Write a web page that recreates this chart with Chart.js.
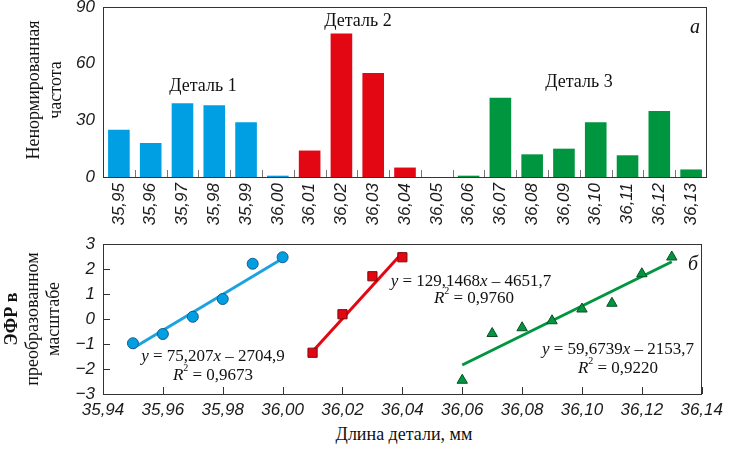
<!DOCTYPE html>
<html><head><meta charset="utf-8">
<script src="https://cdn.jsdelivr.net/npm/chart.js@4"></script>
<style>
html,body{margin:0;padding:0;background:#fff;}
#wrap{position:relative;width:729px;height:453px;overflow:hidden;background:#fff;}
canvas{position:absolute;left:0;}
.t{position:absolute;font-family:"Liberation Serif","Times New Roman",serif;font-size:18px;color:#111;white-space:nowrap;transform:translate(-50%,-50%);line-height:1;}
.v{transform:translate(-50%,-50%) rotate(-90deg);}
.eq{font-size:17px;}
.eq sup{font-size:10px;vertical-align:top;position:relative;top:-3px;}
</style></head><body>
<div id="wrap">
<canvas id="c1" width="729" height="253" style="top:-13px"></canvas>
<canvas id="c2" width="729" height="200" style="top:224px"></canvas>

<div class="t v" style="left:33px;top:90px">Ненормированная</div>
<div class="t v" style="left:55px;top:90px">частота</div>
<div class="t" style="left:203px;top:85px">Деталь 1</div>
<div class="t" style="left:358px;top:20px">Деталь 2</div>
<div class="t" style="left:579px;top:81px">Деталь 3</div>
<div class="t" style="left:695px;top:26px;font-style:italic;font-size:20px">а</div>

<div class="t v" style="left:11px;top:319px;font-weight:bold">ЭФР в</div>
<div class="t v" style="left:32px;top:319px">преобразованном</div>
<div class="t v" style="left:53px;top:319px">масштабе</div>
<div class="t eq" style="left:213px;top:355px"><i>y</i> = 75,207<i>x</i> – 2704,9</div>
<div class="t eq" style="left:213px;top:374px"><i>R</i><sup>2</sup> = 0,9673</div>
<div class="t eq" style="left:471px;top:280px"><i>y</i> = 129,1468<i>x</i> – 4651,7</div>
<div class="t eq" style="left:474px;top:297px"><i>R</i><sup>2</sup> = 0,9760</div>
<div class="t eq" style="left:618px;top:348px"><i>y</i> = 59,6739<i>x</i> – 2153,7</div>
<div class="t eq" style="left:618px;top:367px"><i>R</i><sup>2</sup> = 0,9220</div>
<div class="t" style="left:693px;top:263px;font-style:italic;font-size:20px">б</div>
<div class="t" style="left:404px;top:434px">Длина детали, мм</div>
</div>
<script>
// ---- Data ----
const categories = ['35,95','35,96','35,97','35,98','35,99','36,00','36,01','36,02','36,03','36,04','36,05','36,06','36,07','36,08','36,09','36,10','36,11','36,12','36,13'];
const frequency = [25,18,39,38,29,0.7,14,76,55,5,0,0.7,42,12,15,29,11.5,35,4];
const partOf    = [1,1,1,1,1,1,2,2,2,2,2,3,3,3,3,3,3,3,3];
const freqTicks = [0,30,60,90];

const part1X = [35.95,35.96,35.97,35.98,35.99,36.00];
const part1Y = [-0.97,-0.6,0.09,0.8,2.21,2.47];
const part2X = [36.01,36.02,36.03,36.04];
const part2Y = [-1.35,0.19,1.71,2.47];
const part3X = [36.06,36.07,36.08,36.09,36.10,36.11,36.12,36.13];
const part3Y = [-2.45,-0.58,-0.35,-0.07,0.4,0.63,1.81,2.48];
const fit1X = [35.95,36.00], fit1Y = [-1.17,2.42];
const fit2X = [36.01,36.04], fit2Y = [-1.3,2.65];
const fit3X = [36.06,36.13], fit3Y = [-1.84,2.29];
const lenTicks = [35.94,35.96,35.98,36.00,36.02,36.04,36.06,36.08,36.10,36.12,36.14];
const efrTicks = [-3,-2,-1,0,1,2,3];

// ---- Styles ----
const BLUE='#009FE3', RED='#E30613', GREEN='#009640';
const partColor = {1:BLUE,2:RED,3:GREEN};
const tickFont = {family:'"Liberation Sans", Arial, sans-serif', size:17, style:'italic'};
const TXT='#1a1a1a', AX='#333';

const boxPlugin = {
  id:'box',
  afterDraw(chart, args, opts){
    const {ctx, chartArea:a} = chart;
    ctx.save();
    ctx.strokeStyle = AX; ctx.lineWidth = 1;
    ctx.strokeRect(Math.round(a.left)+0.5, Math.round(a.top)+0.5, Math.round(a.right-a.left)-1, Math.round(a.bottom-a.top));
    ctx.strokeStyle = opts.tickColor || AX;
    ctx.beginPath();
    if (opts.mode === 'category') {
      const xs = chart.scales.x, n = categories.length;
      const w = (a.right - a.left)/n;
      for (let i=1;i<n;i++){
        const x = Math.round(xs.getPixelForValue(i) - w/2)+0.5;
        ctx.moveTo(x, a.bottom); ctx.lineTo(x, a.bottom-7);
      }
    } else {
      const xs = chart.scales.x, ys = chart.scales.y;
      lenTicks.forEach(v=>{
        const x = Math.round(xs.getPixelForValue(v))+0.5;
        ctx.moveTo(x, a.bottom); ctx.lineTo(x, a.bottom-7);
      });
      efrTicks.forEach(v=>{
        const y = Math.round(ys.getPixelForValue(v))+0.5;
        ctx.moveTo(a.left, y); ctx.lineTo(a.left+7, y);
      });
    }
    ctx.stroke();
    ctx.restore();
  }
};

new Chart(document.getElementById('c1'), {
  type:'bar',
  data:{labels:categories, datasets:[{data:frequency, backgroundColor:partOf.map(p=>partColor[p]), borderWidth:0, barPercentage:0.68, categoryPercentage:1}]},
  options:{
    responsive:false, animation:false, devicePixelRatio:1,
    layout:{padding:{top:20,right:22,left:0,bottom:0}},
    plugins:{legend:{display:false}, tooltip:{enabled:false}, box:{mode:'category', tickColor:'#777'}},
    scales:{
      x:{offset:true, grid:{display:false, drawTicks:false}, border:{display:false},
         ticks:{font:tickFont, color:TXT, minRotation:90, maxRotation:90, padding:6, autoSkip:false},
         afterFit(s){ s.height = 63; }},
      y:{min:0, max:90, grid:{display:false, drawTicks:false}, border:{display:false},
         afterBuildTicks(s){ s.ticks = freqTicks.map(v=>({value:v})); },
         ticks:{font:tickFont, color:TXT, padding:8},
         afterFit(s){ s.width = 103; }}
    }
  },
  plugins:[boxPlugin]
});

const pts = (xs, ys) => xs.map((x,i)=>({x, y:ys[i]}));
const fmt = v => v.toFixed(2).replace('.', ',');

new Chart(document.getElementById('c2'), {
  type:'scatter',
  data:{datasets:[
    {data:pts(part1X,part1Y), pointStyle:'circle', pointRadius:5.5, backgroundColor:BLUE, borderColor:'#1c5a85', borderWidth:1, order:0},
    {data:pts(part2X,part2Y), pointStyle:'rect', pointRadius:6.5, backgroundColor:RED, borderColor:'#7a0a0a', borderWidth:1, order:0},
    {data:pts(part3X,part3Y), pointStyle:'triangle', pointRadius:6, backgroundColor:GREEN, borderColor:'#0b4d24', borderWidth:1, order:0},
    {data:pts(fit1X,fit1Y), showLine:true, pointRadius:0, borderColor:'#1BA3E0', borderWidth:3, order:1},
    {data:pts(fit2X,fit2Y), showLine:true, pointRadius:0, borderColor:RED, borderWidth:3, order:1},
    {data:pts(fit3X,fit3Y), showLine:true, pointRadius:0, borderColor:GREEN, borderWidth:3, order:1}
  ]},
  options:{
    responsive:false, animation:false, devicePixelRatio:1,
    layout:{padding:{top:20,right:22,left:0,bottom:0}},
    plugins:{legend:{display:false}, tooltip:{enabled:false}, box:{mode:'linear', tickColor:AX}},
    scales:{
      x:{type:'linear', min:35.94, max:36.14, grid:{display:false, drawTicks:false}, border:{display:false},
         afterBuildTicks(s){ s.ticks = lenTicks.map(v=>({value:v})); },
         ticks:{font:tickFont, color:TXT, padding:6, maxRotation:0, autoSkip:false, callback:v=>fmt(v)},
         afterFit(s){ s.height = 30; }},
      y:{min:-3, max:3, grid:{display:false, drawTicks:false}, border:{display:false},
         afterBuildTicks(s){ s.ticks = efrTicks.map(v=>({value:v})); },
         ticks:{font:tickFont, color:TXT, padding:8, callback:v=> v<0 ? '\u2212'+Math.abs(v) : String(v)},
         afterFit(s){ s.width = 103; }}
    }
  },
  plugins:[boxPlugin]
});
</script>
</body></html>
